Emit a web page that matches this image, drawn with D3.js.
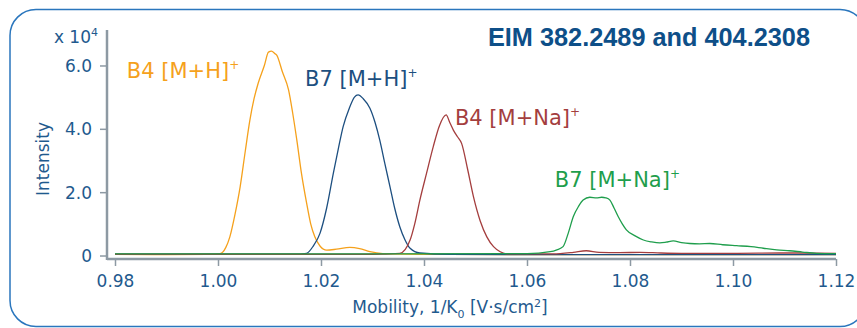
<!DOCTYPE html>
<html>
<head>
<meta charset="utf-8">
<script src="https://cdn.jsdelivr.net/npm/d3@7"></script>
<style>
  body { margin: 0; background: #fff; }
  svg text { font-family: "DejaVu Sans", sans-serif; }
</style>
</head>
<body>
<div class="canvas"></div>
<script>
// mobility (1/K0) vs intensity (x 10^4)
const b4H = [
  [0.98, 0.04], [0.99, 0.03], [0.998, 0.04], [1.0004, 0.06], [1.0015, 0.25],
  [1.0023, 0.59], [1.0033, 1.3], [1.0043, 2.17], [1.0053, 3.3], [1.0062, 4.28],
  [1.007, 4.95], [1.0078, 5.44], [1.009, 6.0], [1.0098, 6.42], [1.0104, 6.45],
  [1.011, 6.38], [1.0114, 6.33], [1.0125, 5.8], [1.0137, 5.23], [1.0145, 4.5],
  [1.0153, 3.65], [1.0162, 2.6], [1.0172, 1.66], [1.018, 1.0], [1.0188, 0.59],
  [1.0198, 0.3], [1.0211, 0.17], [1.023, 0.2], [1.0256, 0.26], [1.0275, 0.22],
  [1.0295, 0.12], [1.032, 0.06], [1.04, 0.04], [1.06, 0.03], [1.08, 0.03],
  [1.1, 0.03], [1.12, 0.03]
];
const b7H = [
  [0.98, 0.04], [1.0, 0.04], [1.015, 0.04], [1.0172, 0.07], [1.0185, 0.3],
  [1.0198, 0.7], [1.0211, 1.5], [1.0224, 2.6], [1.0234, 3.4], [1.0243, 4.07],
  [1.0255, 4.65], [1.0265, 5.0], [1.0272, 5.07], [1.0282, 4.95], [1.0295, 4.65],
  [1.0305, 4.2], [1.0314, 3.65], [1.0324, 2.9], [1.0334, 2.17], [1.0343, 1.5],
  [1.0353, 0.91], [1.0363, 0.5], [1.0373, 0.23], [1.0392, 0.08], [1.045, 0.04],
  [1.06, 0.03], [1.12, 0.03]
];
const b4Na = [
  [0.98, 0.04], [1.03, 0.04], [1.0353, 0.07], [1.0373, 0.49], [1.0382, 1.0],
  [1.0392, 1.75], [1.0405, 2.6], [1.0418, 3.44], [1.043, 4.1], [1.0443, 4.44],
  [1.045, 4.2], [1.0457, 3.96], [1.0465, 3.75], [1.0473, 3.54], [1.0485, 2.7],
  [1.0496, 1.86], [1.0509, 1.1], [1.0522, 0.59], [1.0535, 0.28], [1.0548, 0.12],
  [1.0561, 0.05], [1.065, 0.05], [1.069, 0.1], [1.0715, 0.15], [1.074, 0.1],
  [1.078, 0.09], [1.082, 0.1], [1.086, 0.08], [1.09, 0.07], [1.1, 0.07],
  [1.11, 0.08], [1.12, 0.07]
];
const b7Na = [
  [0.98, 0.05], [1.0, 0.05], [1.03, 0.05], [1.06, 0.06], [1.0645, 0.12],
  [1.0658, 0.18], [1.067, 0.28], [1.068, 0.7], [1.069, 1.23], [1.07, 1.55],
  [1.0709, 1.75], [1.0722, 1.84], [1.0735, 1.82], [1.0745, 1.84], [1.0753, 1.82],
  [1.0761, 1.75], [1.0769, 1.5], [1.0777, 1.23], [1.0785, 1.0], [1.0793, 0.81],
  [1.081, 0.62], [1.0826, 0.49], [1.0842, 0.43], [1.0858, 0.4], [1.087, 0.42],
  [1.0884, 0.46], [1.09, 0.41], [1.0916, 0.38], [1.0935, 0.37], [1.0955, 0.38],
  [1.098, 0.34], [1.1007, 0.31], [1.1035, 0.28], [1.1059, 0.23], [1.1085, 0.18],
  [1.111, 0.15], [1.1135, 0.11], [1.1162, 0.07], [1.12, 0.06]
];

const xTicks = [0.98, 1.0, 1.02, 1.04, 1.06, 1.08, 1.1, 1.12];
const yTicks = [0, 2, 4, 6];

// label name, anchor (mobility, intensity)
const seriesNames = ["B4 [M+H]", "B7 [M+H]", "B4 [M+Na]", "B7 [M+Na]"];
const labelX = [0.9823, 1.0169, 1.046, 1.0654];
const labelY = [5.6, 5.35, 4.12, 2.16];
const seriesColors = ["#f5a11c", "#1d4f80", "#a43e3e", "#1f9e4c"];

const width = 857;
const height = 328;
const textBlue = "#1f5a8e";
const axisGrey = "#8d99a3";

const svg = d3
  .select(".canvas")
  .append("svg")
  .attr("width", width)
  .attr("height", height);

// rounded frame
svg
  .append("rect")
  .attr("x", 10)
  .attr("y", 9.5)
  .attr("width", 856)
  .attr("height", 317)
  .attr("rx", 26)
  .attr("fill", "none")
  .attr("stroke", "#2a76bd")
  .attr("stroke-width", 1.5);

const xScale = d3.scaleLinear().domain([0.98, 1.12]).range([115, 836]);
const yScale = d3.scaleLinear().domain([-0.11, 7.12]).range([259, 30]);

// axes
const xAxis = svg
  .append("g")
  .attr("transform", "translate(0," + yScale(-0.11) + ")")
  .call(
    d3.axisBottom(xScale)
      .tickValues(xTicks)
      .tickFormat(d3.format(".2f"))
      .tickSize(7)
      .tickSizeOuter(0)
  );
xAxis.select(".domain").remove();
xAxis.selectAll("line").attr("stroke", axisGrey).attr("stroke-width", 1.5);
xAxis
  .selectAll("text")
  .attr("fill", textBlue)
  .attr("font-size", 17)
  .attr("font-family", null)
  .attr("dy", "1.05em");

const yAxis = svg
  .append("g")
  .attr("transform", "translate(107,0)")
  .call(
    d3.axisLeft(yScale)
      .tickValues(yTicks)
      .tickFormat((d) => (d === 0 ? "0" : d3.format(".1f")(d)))
      .tickSize(7)
      .tickSizeOuter(0)
  );
yAxis.select(".domain").remove();
yAxis.selectAll("line").attr("stroke", axisGrey).attr("stroke-width", 1.5);
yAxis
  .selectAll("text")
  .attr("fill", textBlue)
  .attr("font-size", 17)
  .attr("font-family", null)
  .attr("x", -15)
  .attr("dy", "0.36em");

// axis lines
svg
  .append("line")
  .attr("x1", 107)
  .attr("y1", yScale(-0.11))
  .attr("x2", xScale(1.12))
  .attr("y2", yScale(-0.11))
  .attr("stroke", axisGrey)
  .attr("stroke-width", 2.5);
svg
  .append("line")
  .attr("x1", 107)
  .attr("y1", yScale(7.12))
  .attr("x2", 107)
  .attr("y2", yScale(-0.11) + 1)
  .attr("stroke", axisGrey)
  .attr("stroke-width", 2.5);

// x 10^4
const mult = svg
  .append("text")
  .attr("x", 98)
  .attr("y", 43)
  .attr("text-anchor", "end")
  .attr("fill", textBlue)
  .attr("font-size", 17);
mult.append("tspan").text("x 10");
mult.append("tspan").text("4").attr("font-size", 11).attr("dy", -7);

// axis titles
svg
  .append("text")
  .attr("transform", "translate(49,159) rotate(-90)")
  .attr("text-anchor", "middle")
  .attr("fill", textBlue)
  .attr("font-size", 17)
  .text("Intensity");

const xTitle = svg
  .append("text")
  .attr("x", 450)
  .attr("y", 313)
  .attr("text-anchor", "middle")
  .attr("fill", textBlue)
  .attr("font-size", 17);
xTitle.append("tspan").text("Mobility, 1/K");
xTitle.append("tspan").text("0").attr("font-size", 11).attr("dy", 5);
xTitle.append("tspan").text(" [V·s/cm").attr("dy", -5);
xTitle.append("tspan").text("2").attr("font-size", 11).attr("dy", -6);
xTitle.append("tspan").text("]").attr("dy", 6);

// title (style so it beats the stylesheet font)
svg
  .append("text")
  .attr("x", 810)
  .attr("y", 46)
  .attr("text-anchor", "end")
  .attr("fill", "#0e4f88")
  .style("font-family", "'Liberation Sans', Arial, sans-serif")
  .attr("font-weight", "bold")
  .attr("font-size", 25.3)
  .text("EIM 382.2489 and 404.2308");

// traces
const line = d3
  .line()
  .x((d) => xScale(d[0]))
  .y((d) => yScale(d[1]))
  .curve(d3.curveMonotoneX);

const traces = [b4H, b7H, b4Na, b7Na];
traces.forEach((t, i) => {
  svg
    .append("path")
    .datum(t)
    .attr("d", line)
    .attr("fill", "none")
    .attr("stroke", seriesColors[i])
    .attr("stroke-width", 1.3);
});

// series labels
for (let i = 0; i < seriesNames.length; i++) {
  const lbl = svg
    .append("text")
    .attr("x", xScale(labelX[i]))
    .attr("y", yScale(labelY[i]))
    .attr("fill", seriesColors[i])
    .attr("font-size", 21);
  lbl.append("tspan").text(seriesNames[i]);
  lbl.append("tspan").text("+").attr("font-size", 12).attr("dy", -9);
}
</script>
</body>
</html>
